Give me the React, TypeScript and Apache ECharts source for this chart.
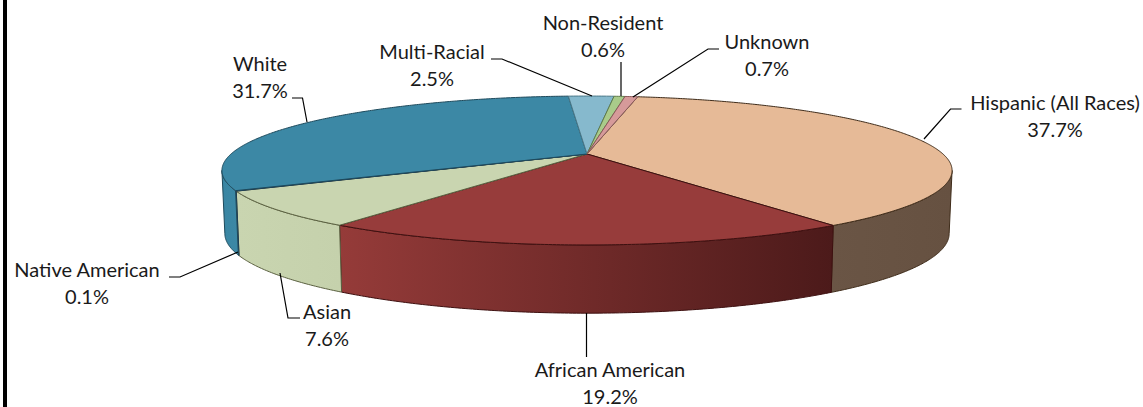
import React, { useEffect, useRef } from "react";
import * as echarts from "echarts";

const categories = ["Hispanic (All Races)", "African American", "Asian", "Native American", "White", "Multi-Racial", "Non-Resident", "Unknown"];
const shares = [37.7, 19.2, 7.6, 0.1, 31.7, 2.5, 0.6, 0.7];
const topColors = ["#E6BA97", "#973C3B", "#C9D5B0", "#2F5F74", "#3C88A5", "#86B9CD", "#A9CB8A", "#D69A9A"];
const sideStart = ["#6A5545", "#953B39", "#C9D5B0", "#2F5F74", "#3A86A3", "#86B9CD", "#A9CB8A", "#D69A9A"];
const sideEnd = ["#665141", "#4C1A1A", "#C5D1AC", "#2F5F74", "#3C88A5", "#86B9CD", "#A9CB8A", "#D69A9A"];
const edgeColors = ["#3F2C1A", "#3E1010", "#5A6040", "#1F3A50", "#1E4A5C", "#4A7888", "#5F7A48", "#8A5A5A"];
const labelCenters = [[1055, 115], [610, 382.5], [327, 324], [87, 282], [260, 76], [432, 64], [603, 35], [767, 54]];
const leaders = [
  [[961.5, 109], [950.5, 109], [924, 139]],
  [[586.5, 313], [586.5, 357]],
  [[300, 318], [288, 318], [280, 273]],
  [[169, 277], [180, 277], [238, 252]],
  [[292, 98], [302.5, 98], [307, 122]],
  [[491, 59], [502, 59], [592, 96]],
  [[621, 62], [621, 96]],
  [[719, 49], [708, 49], [633, 97]],
];

const START_DEG = 10;
const APEX = [587, 154];
const PERSP = 0.2215;
const RX = 356;
const RY = 70.8;
const VIS_A = (Math.acos(-PERSP) * 180) / Math.PI;
const VIS_B = 360 - VIS_A;

function topPoint(deg: number) {
  const t = (deg * Math.PI) / 180;
  const u = Math.sin(t);
  const v = -Math.cos(t);
  const w = 1 - PERSP * v;
  return [APEX[0] + (RX * u) / w, APEX[1] + (RY * v) / w];
}
function bottomPoint(deg: number) {
  const [x, y] = topPoint(deg);
  return [APEX[0] + (x - APEX[0]) * 0.992, y + 63 + (y - 170) * 0.07];
}
function arc(fn: (d: number) => number[], a: number, b: number) {
  const n = Math.max(2, Math.ceil(Math.abs(b - a) * 2));
  const pts: number[][] = [];
  for (let i = 0; i <= n; i++) pts.push(fn(a + ((b - a) * i) / n));
  return pts;
}
const total = shares.reduce((s, v) => s + v, 0);
function spans() {
  let a = START_DEG;
  return shares.map((v) => {
    const b = a + (v / total) * 360;
    const r = [a, b];
    a = b;
    return r;
  });
}

export default function App() {
  const ref = useRef<HTMLDivElement>(null);
  useEffect(() => {
    document.body.style.margin = "0";
    const chart = echarts.init(ref.current!, undefined, { renderer: "svg" });
    const sp = spans();
    const rows = shares.map((v, i) => ({ name: categories[i], value: v }));
    const font = { fontFamily: "Lato", fontSize: 20, fill: "#1a1a1a" };
    chart.setOption({
      animation: false,
      backgroundColor: "#ffffff",
      graphic: [{ type: "rect", shape: { x: 3, y: 0, width: 4, height: 407 }, style: { fill: "#000" }, z: 1 }],
      series: [
        {
          type: "custom",
          coordinateSystem: "none",
          silent: true,
          z: 2,
          data: rows,
          renderItem: (p: any) => {
            const i = p.dataIndex;
            const a = Math.max(sp[i][0], VIS_A);
            const b = Math.min(sp[i][1], VIS_B);
            if (b <= a) return null;
            const pts = [...arc(topPoint, a, b), ...arc(bottomPoint, b, a)];
            return {
              type: "polygon",
              shape: { points: pts },
              style: {
                fill: new echarts.graphic.LinearGradient(0, 0, 1, 0, [
                  { offset: 0, color: sideStart[i] },
                  { offset: 1, color: sideEnd[i] },
                ]),
                stroke: edgeColors[i],
                lineWidth: 1,
              },
            };
          },
        },
        {
          type: "custom",
          coordinateSystem: "none",
          silent: true,
          z: 3,
          data: rows,
          renderItem: (p: any) => {
            const i = p.dataIndex;
            const [a, b] = sp[i];
            return {
              type: "polygon",
              shape: { points: [APEX, ...arc(topPoint, a, b)] },
              style: { fill: topColors[i], stroke: edgeColors[i], lineWidth: 1 },
            };
          },
        },
        {
          type: "custom",
          coordinateSystem: "none",
          silent: true,
          z: 4,
          data: rows,
          renderItem: (p: any) => {
            const i = p.dataIndex;
            const [cx, cy] = labelCenters[i];
            return {
              type: "group",
              children: [
                { type: "polyline", shape: { points: leaders[i] }, style: { stroke: "#000", lineWidth: 1.2, fill: "none" } },
                { type: "text", x: cx, y: cy - 13.5, style: { ...font, text: categories[i], align: "center", verticalAlign: "middle" } },
                { type: "text", x: cx, y: cy + 13.5, style: { ...font, text: shares[i].toFixed(1) + "%", align: "center", verticalAlign: "middle" } },
              ],
            };
          },
        },
      ],
    });
    return () => chart.dispose();
  }, []);
  return <div ref={ref} style={{ width: 1143, height: 407 }} />;
}
